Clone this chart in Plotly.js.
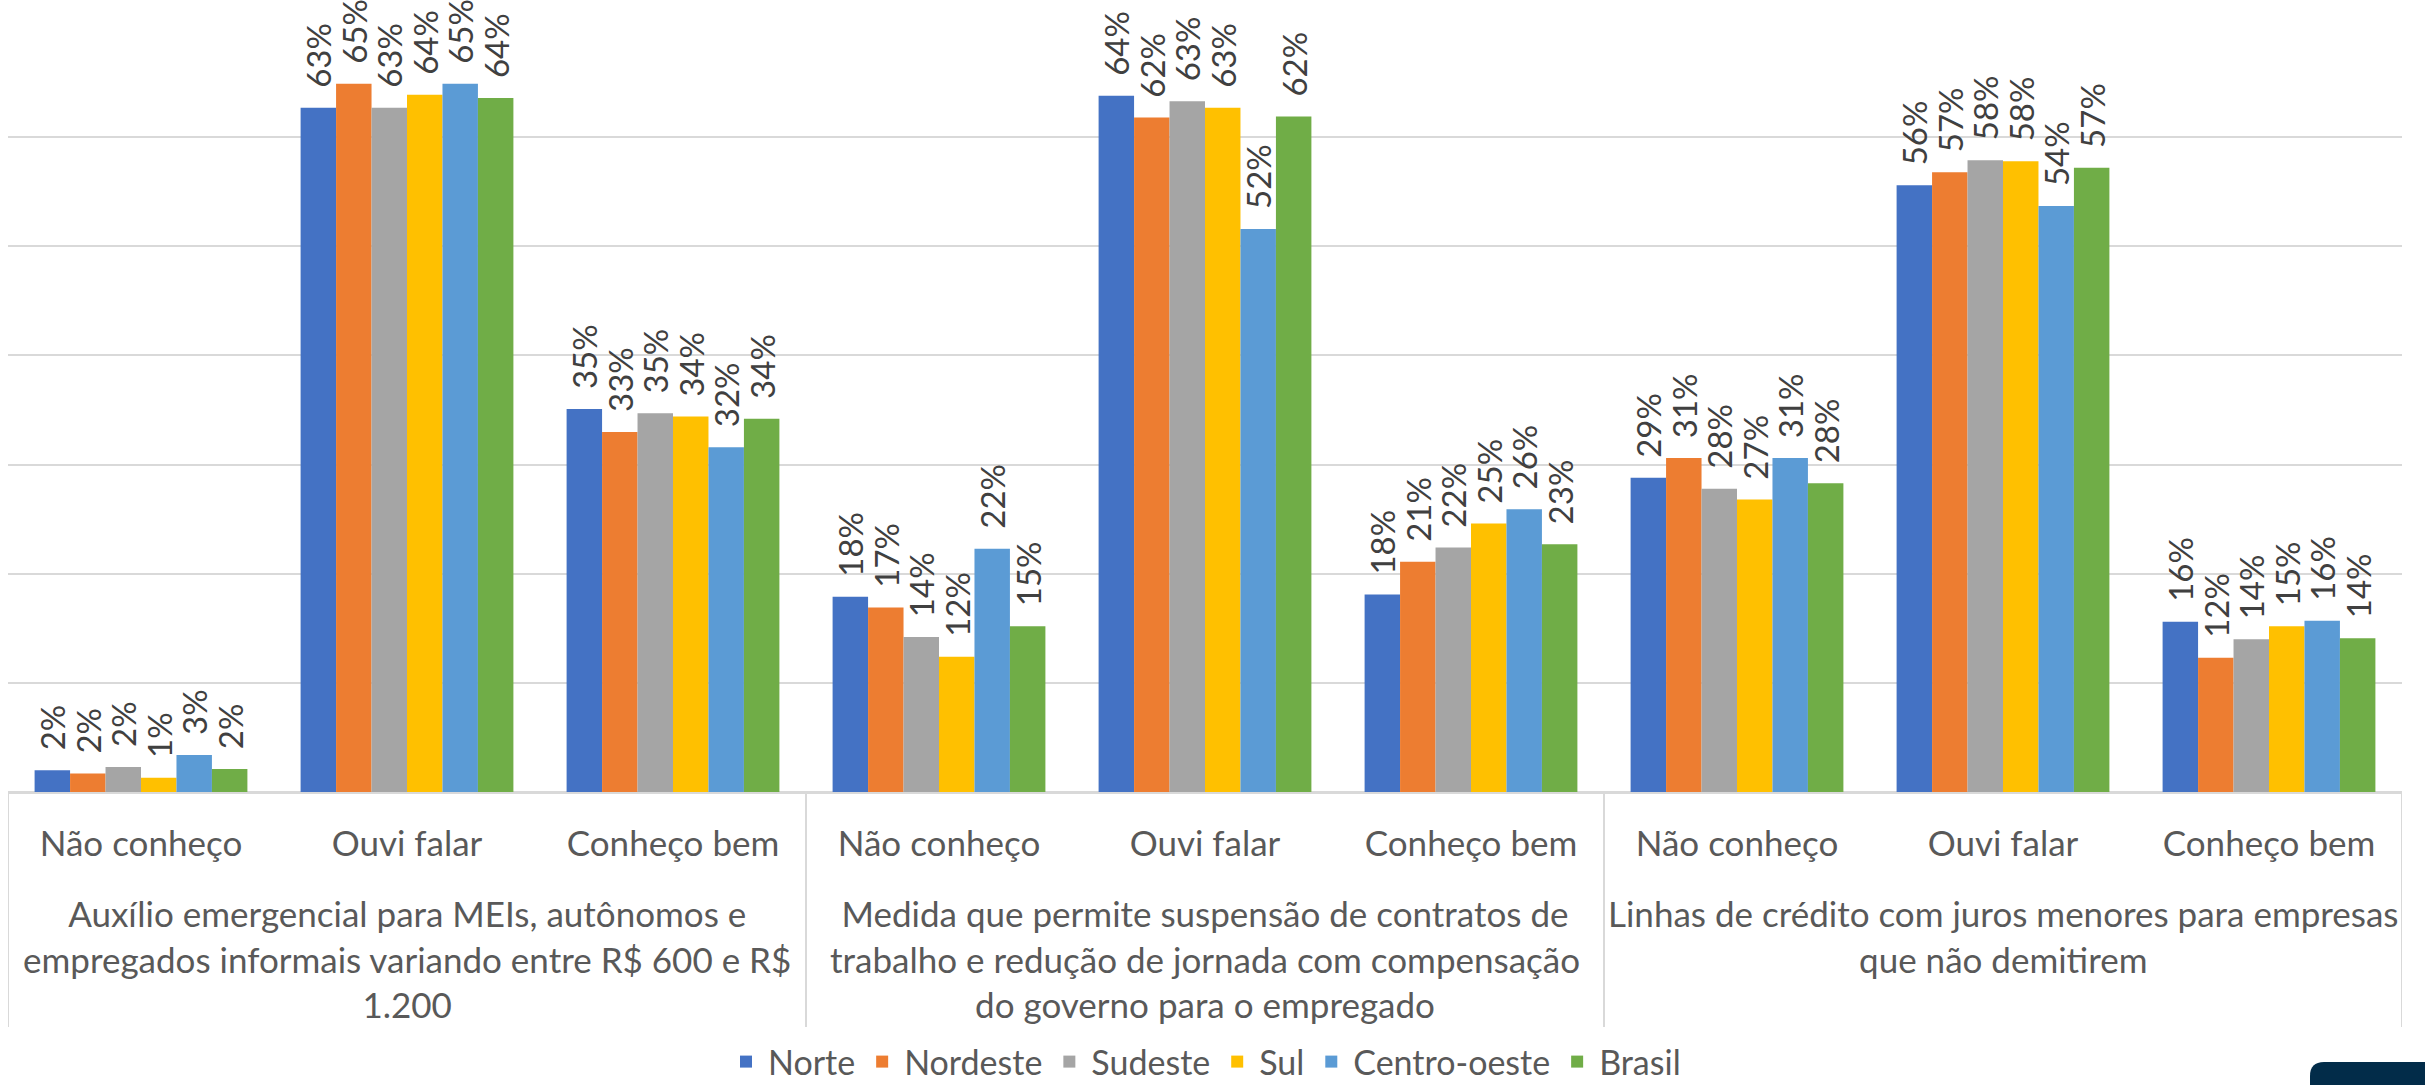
<!DOCTYPE html>
<html><head><meta charset="utf-8">
<script src="https://cdn.plot.ly/plotly-3.0.1.min.js"></script>
<style>html,body{margin:0;padding:0;background:#fff;} #chart{width:2425px;height:1085px;}</style>
</head><body><div id="chart"></div>
<script>
// ---- data ----
const groups = [
  "Auxílio emergencial para MEIs, autônomos e<br>empregados informais variando entre R$ 600 e R$<br>1.200",
  "Medida que permite suspensão de contratos de<br>trabalho e redução de jornada com compensação<br>do governo para o empregado",
  "Linhas de crédito com juros menores para empresas<br>que não demitirem"
];
const levels = ["Não conheço", "Ouvi falar", "Conheço bem"];
const seriesNames = ["Norte", "Nordeste", "Sudeste", "Sul", "Centro-oeste", "Brasil"];
const norte       = [0.020, 0.627, 0.351, 0.179, 0.638, 0.181, 0.288, 0.556, 0.156];
const nordeste    = [0.017, 0.649, 0.330, 0.169, 0.618, 0.211, 0.306, 0.568, 0.123];
const sudeste     = [0.023, 0.627, 0.347, 0.142, 0.633, 0.224, 0.278, 0.579, 0.140];
const sul         = [0.013, 0.639, 0.344, 0.124, 0.627, 0.246, 0.268, 0.578, 0.152];
const centroOeste = [0.034, 0.649, 0.316, 0.223, 0.516, 0.259, 0.306, 0.537, 0.157];
const brasil      = [0.021, 0.636, 0.342, 0.152, 0.619, 0.227, 0.283, 0.572, 0.141];
const seriesValues = [norte, nordeste, sudeste, sul, centroOeste, brasil];
const colors = ["#4472C4", "#ED7D31", "#A5A5A5", "#FFC000", "#5B9BD5", "#70AD47"];

// ---- build ----
const xIdx = [], tickText = [];
groups.forEach((g, gi) => levels.forEach((l, li) => {
  xIdx.push(gi * levels.length + li);
  tickText.push(l);
}));

const FONT = "Lato, 'Liberation Sans', sans-serif";
const traces = seriesNames.map((name, i) => ({
  type: "bar",
  name: name,
  x: xIdx,
  y: seriesValues[i],
  marker: {color: colors[i]},
  texttemplate: "\u00A0\u00A0%{y:.0%}",
  textposition: "outside",
  textangle: -90,
  constraintext: "none",
  cliponaxis: false,
  textfont: {family: FONT, size: 33, color: "#404040"},
  hoverinfo: "skip"
}));

const W = 2425, H = 1085, mL = 8, mR = 23, mT = 28, mB = 293;
const pw = W - mL - mR, ph = H - mT - mB;
const px = v => (v - mL) / pw;
const py = v => (H - mB - v) / ph;
const bx0 = px(2310), bx1 = px(2440), by0 = py(1062), by1 = py(1100);
const rx = 14 / pw, ry = 14 / ph;
const badge = `M ${bx0},${by1} L ${bx0},${by0 - ry} Q ${bx0},${by0} ${bx0 + rx},${by0} L ${bx1},${by0} L ${bx1},${by1} Z`;

const nL = levels.length;
const shapes = [];
for (let g = 0; g <= groups.length; g++) {
  shapes.push({
    type: "line", xref: "x", yref: "paper",
    x0: g * nL - 0.5, x1: g * nL - 0.5, y0: 0, y1: py(1027),
    line: {color: "#d9d9d9", width: 2}, layer: "above"
  });
}
shapes.push({
  type: "path", xref: "paper", yref: "paper", path: badge,
  fillcolor: "#022c49", line: {width: 0}, layer: "above"
});

const annotations = groups.map((g, gi) => ({
  xref: "x", yref: "paper",
  x: gi * nL + (nL - 1) / 2, y: py(890),
  xanchor: "center", yanchor: "top", align: "center",
  text: g, showarrow: false,
  font: {family: FONT, size: 35, color: "#595959"}
}));

const layout = {
  width: W, height: H,
  margin: {l: mL, r: mR, t: mT, b: mB, pad: 0, autoexpand: false},
  paper_bgcolor: "#ffffff",
  plot_bgcolor: "#ffffff",
  barmode: "group",
  bargap: 0.2,
  bargroupgap: 0,
  font: {family: FONT, color: "#595959"},
  showlegend: true,
  legend: {
    orientation: "h", x: 0.5, xanchor: "center", y: py(1033), yanchor: "top",
    font: {family: FONT, size: 34, color: "#595959"},
    bgcolor: "rgba(0,0,0,0)", traceorder: "normal", itemwidth: 34
  },
  xaxis: {
    type: "linear",
    range: [-0.5, xIdx.length - 0.5],
    tickmode: "array", tickvals: xIdx, ticktext: tickText,
    tickfont: {family: FONT, size: 35, color: "#595959"},
    ticks: "outside", ticklen: 20, tickcolor: "rgba(0,0,0,0)",
    showline: true, linecolor: "#d9d9d9", linewidth: 2,
    showgrid: false, zeroline: false, fixedrange: true
  },
  yaxis: {
    range: [0, 0.7001],
    dtick: 0.1, tick0: 0,
    showticklabels: false, ticks: "",
    showgrid: true, gridcolor: "#d9d9d9", gridwidth: 2,
    zeroline: true, zerolinecolor: "#d9d9d9", zerolinewidth: 2,
    showline: false, fixedrange: true
  },
  shapes: shapes,
  annotations: annotations
};

Plotly.newPlot("chart", traces, layout, {displayModeBar: false, staticPlot: true});
</script>
</body></html>
